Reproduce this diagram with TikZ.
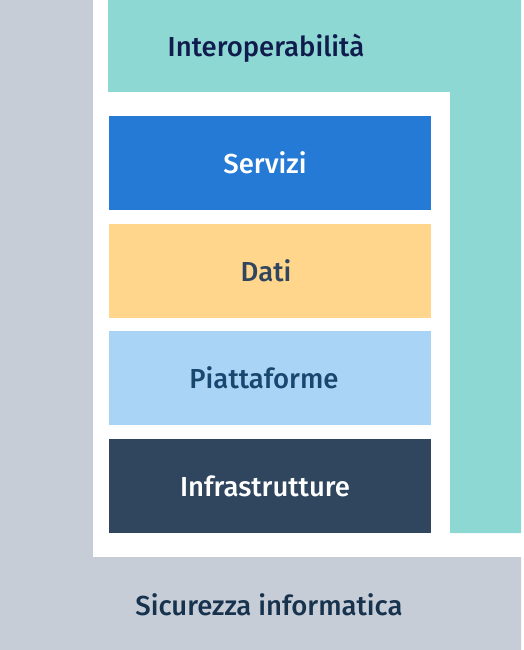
\documentclass[tikz,border=0pt]{standalone}
\usepackage{fontspec}
\setmainfont{Fira Sans}[BoldFont={Fira Sans Medium}]
\definecolor{grayc}{HTML}{C6CDD7}
\definecolor{tealc}{HTML}{8ED8D4}
\definecolor{servc}{HTML}{247AD4}
\definecolor{datic}{HTML}{FFD68B}
\definecolor{piatc}{HTML}{A9D4F5}
\definecolor{infrc}{HTML}{30465F}
\definecolor{navyc}{HTML}{101C4D}
\definecolor{sicc}{HTML}{17324D}
\definecolor{datit}{HTML}{30465F}
\definecolor{piatt}{HTML}{17466F}
\tikzset{
  layer/.style={inner sep=0pt, outer sep=0pt},
  lbl/.style={anchor=base, inner sep=0pt, font=\fontsize{27.5}{32}\selectfont\bfseries}
}
\begin{document}
\begin{tikzpicture}[x=1pt,y=-1pt]
\useasboundingbox (0,0) rectangle (524,650);
\fill[white] (0,0) rectangle (524,650);
% gray L
\fill[grayc] (0,0) -- (93,0) -- (93,557) -- (521,557) -- (521,650) -- (0,650) -- cycle;
% white region
\fill[white] (93,0) rectangle (521,557);
% teal L
\fill[tealc] (108,0) -- (521,0) -- (521,533) -- (450,533) -- (450,92) -- (108,92) -- cycle;
% boxes
\node[layer, fill=servc, minimum width=322pt, minimum height=94pt, anchor=north west] (serv) at (109,116) {};
\node[layer, fill=datic, minimum width=322pt, minimum height=94pt, anchor=north west] (dati) at (109,224) {};
\node[layer, fill=piatc, minimum width=322pt, minimum height=94pt, anchor=north west] (piat) at (109,331) {};
\node[layer, fill=infrc, minimum width=322pt, minimum height=94pt, anchor=north west] (infr) at (109,439) {};
% labels
\node[lbl, text=navyc] (tinter) at (266,57) {Interoperabilità};
\node[lbl, text=white] (tserv) at (265,173) {Servizi};
\node[lbl, text=datit] (tdati) at (266,281) {Dati};
\node[lbl, text=piatt] (tpiat) at (264,388) {Piattaforme};
\node[lbl, text=white] (tinfr) at (265,496) {Infrastrutture};
\node[lbl, text=sicc] (tsic) at (269,615) {Sicurezza informatica};
\end{tikzpicture}
\end{document}
